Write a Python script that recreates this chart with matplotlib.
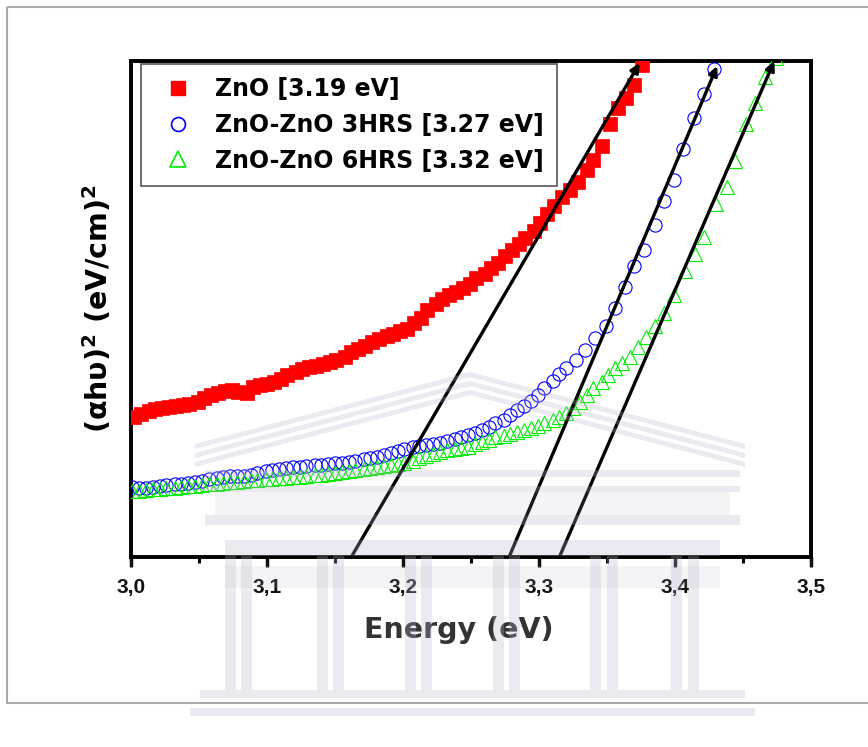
import matplotlib
matplotlib.use("Agg")
import matplotlib.pyplot as plt
import matplotlib.transforms as mtransforms
from matplotlib.ticker import MultipleLocator, FuncFormatter
from matplotlib.patches import Rectangle, Polygon
from matplotlib.lines import Line2D

plt.rcParams['font.family'] = ['DejaVu Sans']
plt.rcParams['font.weight'] = 'bold'
plt.rcParams['mathtext.fontset'] = 'custom'
plt.rcParams['mathtext.rm'] = 'DejaVu Sans:bold'
plt.rcParams['mathtext.it'] = 'DejaVu Sans:bold'
plt.rcParams['mathtext.bf'] = 'DejaVu Sans:bold'

# ---- Tauc plot data: photon energy (eV) vs (alpha*h*nu)^2 (arb. units) ----
energy_zno = [3.002, 3.007, 3.013, 3.018, 3.023, 3.028, 3.033, 3.038, 3.043, 3.049,
              3.054, 3.059, 3.064, 3.069, 3.074, 3.079, 3.085, 3.090, 3.095, 3.100,
              3.105, 3.110, 3.115, 3.121, 3.126, 3.131, 3.136, 3.141, 3.146, 3.151,
              3.157, 3.162, 3.167, 3.172, 3.177, 3.182, 3.188, 3.193, 3.198, 3.203,
              3.208, 3.213, 3.218, 3.224, 3.229, 3.234, 3.239, 3.244, 3.249, 3.254,
              3.260, 3.265, 3.270, 3.275, 3.280, 3.285, 3.290, 3.296, 3.301, 3.306,
              3.311, 3.317, 3.323, 3.329, 3.335, 3.340, 3.346, 3.352, 3.358, 3.364,
              3.370, 3.376]
tauc_zno = [28.2, 28.8, 29.4, 29.8, 30.0, 30.2, 30.4, 30.6, 30.8, 31.3,
            32.1, 32.7, 33.1, 33.5, 33.7, 33.3, 33.1, 34.3, 34.7, 34.9,
            35.3, 35.9, 36.7, 37.3, 37.9, 38.3, 38.5, 38.9, 39.3, 39.7,
            40.3, 41.3, 41.9, 42.5, 43.3, 44.0, 44.6, 45.0, 45.6, 46.0,
            47.2, 48.2, 49.8, 51.0, 52.0, 52.8, 53.4, 54.2, 55.0, 56.3,
            57.1, 58.3, 59.3, 60.7, 61.9, 63.1, 64.3, 65.7, 67.3, 69.2,
            70.8, 72.6, 74.0, 75.6, 78.0, 80.0, 82.9, 87.3, 90.5, 92.5,
            95.2, 99.2]

energy_3h = [3.001, 3.006, 3.011, 3.016, 3.021, 3.026, 3.032, 3.037, 3.042, 3.047,
             3.052, 3.057, 3.063, 3.068, 3.073, 3.078, 3.083, 3.088, 3.093, 3.099,
             3.104, 3.109, 3.114, 3.119, 3.124, 3.129, 3.135, 3.140, 3.145, 3.150,
             3.155, 3.160, 3.165, 3.171, 3.176, 3.181, 3.186, 3.191, 3.196, 3.201,
             3.207, 3.212, 3.217, 3.222, 3.227, 3.232, 3.238, 3.243, 3.248, 3.253,
             3.258, 3.263, 3.268, 3.274, 3.279, 3.284, 3.289, 3.294, 3.299, 3.304,
             3.310, 3.315, 3.320, 3.327, 3.334, 3.341, 3.349, 3.356, 3.363, 3.370,
             3.377, 3.385, 3.392, 3.399, 3.406, 3.414, 3.421, 3.429]
tauc_3h = [14.1, 13.9, 13.9, 14.1, 14.3, 14.5, 14.7, 14.7, 14.9, 15.1,
           15.3, 15.7, 15.9, 16.1, 16.3, 16.3, 16.3, 16.5, 16.9, 17.3,
           17.5, 17.7, 17.9, 18.1, 18.1, 18.3, 18.5, 18.5, 18.8, 19.0,
           19.0, 19.2, 19.4, 19.8, 20.0, 20.2, 20.6, 21.0, 21.4, 21.8,
           22.2, 22.4, 22.6, 22.8, 23.0, 23.4, 23.8, 24.2, 24.6, 25.0,
           25.6, 26.2, 27.0, 27.6, 28.6, 29.6, 30.4, 31.5, 32.7, 34.1,
           35.5, 36.9, 38.1, 39.7, 41.7, 44.2, 46.6, 50.2, 54.4, 58.7,
           61.9, 66.9, 71.8, 76.0, 82.3, 88.5, 93.3, 98.4]

energy_6h = [3.001, 3.006, 3.011, 3.016, 3.021, 3.026, 3.032, 3.037, 3.042, 3.047,
             3.052, 3.057, 3.063, 3.068, 3.073, 3.078, 3.083, 3.088, 3.093, 3.099,
             3.104, 3.109, 3.114, 3.119, 3.124, 3.129, 3.135, 3.140, 3.145, 3.150,
             3.155, 3.160, 3.165, 3.171, 3.176, 3.181, 3.186, 3.191, 3.196, 3.201,
             3.207, 3.212, 3.217, 3.222, 3.227, 3.232, 3.238, 3.243, 3.248, 3.253,
             3.258, 3.263, 3.268, 3.274, 3.279, 3.284, 3.289, 3.294, 3.299, 3.304,
             3.310, 3.315, 3.320, 3.325, 3.330, 3.335, 3.340, 3.346, 3.351, 3.356,
             3.361, 3.367, 3.373, 3.379, 3.385, 3.392, 3.399, 3.407, 3.415, 3.421,
             3.430, 3.438, 3.444, 3.452, 3.459, 3.466, 3.474]
tauc_6h = [13.3, 13.3, 13.5, 13.7, 13.7, 13.9, 13.9, 14.1, 14.3, 14.3,
           14.5, 14.7, 14.7, 14.9, 15.1, 15.1, 15.3, 15.5, 15.5, 15.7,
           15.7, 15.9, 15.9, 16.1, 16.1, 16.3, 16.5, 16.5, 16.7, 16.9,
           17.1, 17.3, 17.5, 17.7, 17.9, 18.1, 18.3, 18.5, 18.8, 19.0,
           19.4, 20.0, 20.4, 20.8, 21.2, 21.6, 21.8, 22.0, 22.2, 22.8,
           23.2, 23.6, 24.2, 24.4, 24.8, 25.2, 25.6, 26.0, 26.4, 27.0,
           27.6, 28.2, 29.0, 30.0, 31.3, 32.7, 34.1, 35.3, 36.7, 38.1,
           39.1, 40.3, 42.3, 44.4, 46.6, 49.2, 52.8, 57.7, 61.1, 64.5,
           71.2, 74.6, 79.8, 87.3, 91.5, 96.8, 100.6]

# linear extrapolations of the absorption edges: (E at zero, E at top), (y at zero, y at top)
fit_zno = ([3.162, 3.374], [0.0, 99.6])
fit_3h = ([3.278, 3.431], [0.0, 99.0])
fit_6h = ([3.315, 3.473], [0.0, 100.0])

series_labels = ["ZnO [3.19 eV]", "ZnO-ZnO 3HRS [3.27 eV]", "ZnO-ZnO 6HRS [3.32 eV]"]
xtick_values = [3.0, 3.1, 3.2, 3.3, 3.4, 3.5]

W, H = 868, 747
fig = plt.figure(figsize=(W / 100, H / 100), dpi=100)
fig.patch.set_facecolor("white")

ax = fig.add_axes([131 / W, 1 - 557 / H, (811 - 131) / W, (557 - 61) / H])
ax.set_facecolor("white")

ax.plot(energy_zno, tauc_zno, ls="none", marker="s", ms=10, mfc="#ff0000",
        mec="#ff0000", mew=0.5, zorder=3)
ax.plot(energy_3h, tauc_3h, ls="none", marker="o", ms=9.5, mfc="none",
        mec="#0000ff", mew=0.8, zorder=3)
ax.plot(energy_6h, tauc_6h, ls="none", marker="^", ms=10, mfc="none",
        mec="#00ee00", mew=0.8, zorder=4)

for fx, fy in (fit_zno, fit_3h, fit_6h):
    ax.annotate("", xy=(fx[1], fy[1]), xytext=(fx[0], fy[0]),
                arrowprops=dict(arrowstyle="-|>", color="black", lw=2.4,
                                mutation_scale=13, shrinkA=0, shrinkB=0),
                zorder=5, annotation_clip=False)

ax.set_xlim(3.0, 3.5)
ax.set_ylim(0, 100)
ax.xaxis.set_minor_locator(MultipleLocator(0.05))
ax.set_xticks(xtick_values)
ax.xaxis.set_major_formatter(FuncFormatter(lambda v, p: f"{v:.1f}".replace(".", ",")))
ax.tick_params(axis="x", which="major", direction="out", length=7, width=2.5,
               pad=8, colors="#111111")
ax.tick_params(axis="x", which="minor", direction="out", length=4, width=2.2)
ax.tick_params(axis="y", which="both", left=False, labelleft=False)
for lab in ax.get_xticklabels():
    lab.set_fontfamily("Liberation Sans")
    lab.set_fontweight("bold")
    lab.set_fontsize(15)
for sp in ax.spines.values():
    sp.set_linewidth(2.8)
    sp.set_color("black")

ax.set_xlabel("Energy (eV)", fontsize=20.5, fontweight="bold", color="#333333")
ax.xaxis.set_label_coords(0.482, -0.118)
ax.set_ylabel(r"$(\alpha h\upsilon)^2\ (eV/cm)^2$", fontsize=20.5, labelpad=12)

handles = [
    Line2D([], [], ls="none", marker="s", ms=10, mfc="#ff0000", mec="#ff0000"),
    Line2D([], [], ls="none", marker="o", ms=10, mfc="none", mec="#0000ff", mew=1.2),
    Line2D([], [], ls="none", marker="^", ms=11, mfc="none", mec="#00ee00", mew=1.2),
]
leg = ax.legend(handles, series_labels, loc="upper left",
                bbox_to_anchor=(10 / 680, 493 / 496), borderaxespad=0,
                frameon=True, fancybox=False, framealpha=1, edgecolor="#555555",
                prop={"family": "DejaVu Sans", "weight": "bold", "size": 17},
                handlelength=2.0, handletextpad=0.6, borderpad=0.55,
                labelspacing=0.5)
leg.get_frame().set_linewidth(1.2)
leg.set_zorder(6)

# page frame and faint building watermark, drawn in pixel coordinates
px = mtransforms.Affine2D().scale(1 / W, -1 / H).translate(0, 1) + fig.transFigure
fig.add_artist(Rectangle((7, 7), 900, 696, transform=px, fill=False,
                         edgecolor="#aaaaaa", lw=1.5))

wm = dict(transform=px, facecolor="#b4b4cc", edgecolor="none", alpha=0.28, zorder=20)
wm_soft = dict(transform=px, facecolor="#b4b4cc", edgecolor="none", alpha=0.14, zorder=20)
for off in (0, 9, 18):
    fig.add_artist(Polygon([(195, 462 - off), (470, 390 - off), (745, 462 - off),
                            (745, 467 - off), (470, 395 - off), (195, 467 - off)],
                           closed=True, **wm))
fig.add_artist(Rectangle((205, 470), 535, 7, **wm))
fig.add_artist(Rectangle((205, 486), 535, 6, **wm))
fig.add_artist(Rectangle((215, 492), 515, 23, **wm_soft))
fig.add_artist(Rectangle((205, 515), 535, 10, **wm))
fig.add_artist(Rectangle((225, 540), 495, 16, **wm))
fig.add_artist(Rectangle((225, 566), 495, 22, **wm_soft))
for cx in (225, 241, 317, 333, 405, 421, 493, 509, 590, 607, 671, 688):
    fig.add_artist(Rectangle((cx, 556), 11, 134, **wm))
fig.add_artist(Rectangle((200, 690), 545, 8, **wm))
fig.add_artist(Rectangle((190, 708), 565, 8, **wm))

fig.savefig("out.png", dpi=100)
